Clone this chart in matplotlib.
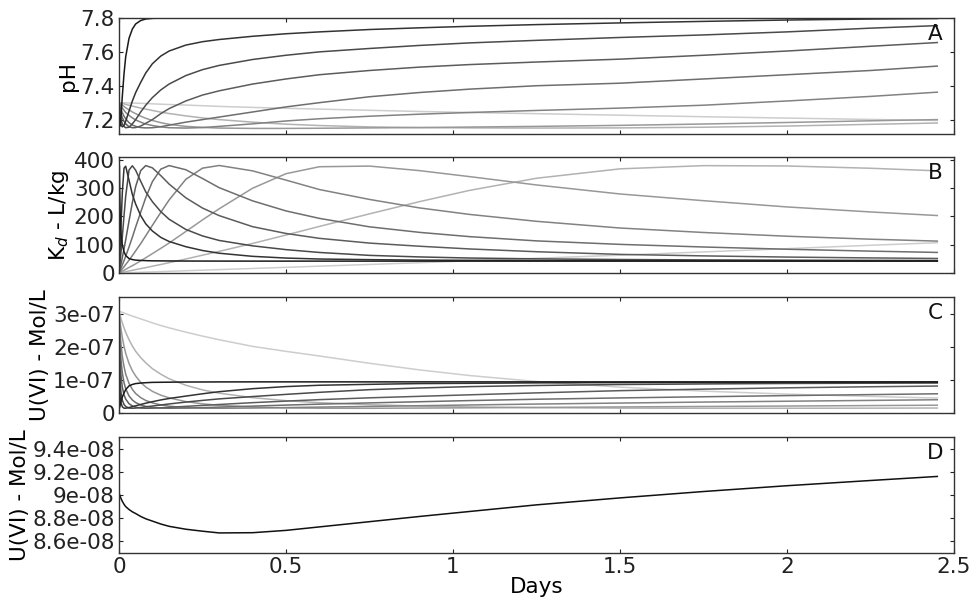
import matplotlib
matplotlib.use("Agg")
import matplotlib.pyplot as plt
import numpy as np

plt.rcParams['font.family'] = ['DejaVu Sans']

# common time grid (days)
t_days = [0, 0.001, 0.002, 0.004, 0.006, 0.01, 0.015, 0.02, 0.03, 0.04, 0.05, 0.065, 0.08, 0.1,
          0.125, 0.15, 0.2, 0.25, 0.3, 0.4, 0.5, 0.6, 0.75, 0.9, 1.05, 1.25, 1.5, 1.75, 2.0, 2.25, 2.45]

# Panel A: pH
ph_1 = [7.30, 7.20, 7.16, 7.17, 7.22, 7.34, 7.47, 7.57, 7.68, 7.735, 7.765, 7.785, 7.794, 7.798, 7.80, 7.80,
        7.80, 7.80, 7.80, 7.80, 7.80, 7.80, 7.80, 7.80, 7.80, 7.80, 7.80, 7.80, 7.80, 7.80, 7.80]
ph_2 = [7.30, 7.25, 7.22, 7.185, 7.17, 7.157, 7.165, 7.19, 7.25, 7.31, 7.36, 7.42, 7.475, 7.53, 7.575, 7.605,
        7.64, 7.66, 7.673, 7.692, 7.707, 7.718, 7.732, 7.742, 7.751, 7.761, 7.771, 7.78, 7.788, 7.794, 7.797]
ph_3 = [7.30, 7.27, 7.25, 7.22, 7.20, 7.175, 7.16, 7.152, 7.155, 7.175, 7.20, 7.245, 7.285, 7.33, 7.375, 7.41,
        7.46, 7.495, 7.52, 7.555, 7.58, 7.60, 7.62, 7.638, 7.653, 7.668, 7.685, 7.70, 7.718, 7.74, 7.755]
ph_4 = [7.30, 7.285, 7.27, 7.25, 7.235, 7.21, 7.19, 7.175, 7.158, 7.152, 7.153, 7.162, 7.178, 7.20, 7.235, 7.265,
        7.31, 7.345, 7.37, 7.41, 7.44, 7.465, 7.49, 7.51, 7.525, 7.54, 7.557, 7.58, 7.605, 7.633, 7.655]
ph_5 = [7.30, 7.295, 7.285, 7.27, 7.26, 7.24, 7.22, 7.205, 7.182, 7.168, 7.16, 7.153, 7.151, 7.152, 7.158, 7.167,
        7.185, 7.20, 7.215, 7.245, 7.275, 7.30, 7.335, 7.36, 7.38, 7.40, 7.415, 7.44, 7.465, 7.49, 7.516]
ph_6 = [7.30, 7.298, 7.295, 7.288, 7.28, 7.268, 7.255, 7.242, 7.225, 7.21, 7.198, 7.185, 7.174, 7.165, 7.157, 7.152,
        7.15, 7.153, 7.16, 7.175, 7.192, 7.205, 7.22, 7.232, 7.242, 7.254, 7.268, 7.285, 7.31, 7.337, 7.362]
ph_7 = [7.30, 7.30, 7.298, 7.295, 7.292, 7.286, 7.278, 7.27, 7.258, 7.245, 7.235, 7.22, 7.208, 7.195, 7.182, 7.172,
        7.16, 7.154, 7.15, 7.148, 7.148, 7.149, 7.151, 7.153, 7.156, 7.16, 7.166, 7.174, 7.183, 7.193, 7.20]
ph_8 = [7.30, 7.30, 7.30, 7.299, 7.298, 7.296, 7.293, 7.29, 7.285, 7.28, 7.275, 7.268, 7.262, 7.254, 7.244, 7.236,
        7.222, 7.21, 7.20, 7.185, 7.173, 7.165, 7.157, 7.153, 7.151, 7.15, 7.151, 7.155, 7.162, 7.172, 7.18]
ph_9 = [7.30, 7.30, 7.30, 7.30, 7.30, 7.30, 7.299, 7.299, 7.298, 7.298, 7.297, 7.296, 7.295, 7.293, 7.291, 7.289,
        7.286, 7.282, 7.278, 7.272, 7.267, 7.262, 7.255, 7.248, 7.242, 7.235, 7.226, 7.217, 7.209, 7.201, 7.195]

# Panel B: Kd (L/kg)
kd_1 = [0, 380, 295, 188, 140, 99, 75.5, 62, 51, 47.5, 45.5, 44.4, 43.7, 43, 42.8, 42.6,
        42.3, 42.2, 42.1, 42, 42, 42, 42, 42, 42, 42, 42, 42, 42, 42, 42]
kd_2 = [0, 25, 50.5, 107, 168.5, 285.6, 370.6, 377.4, 328, 277.5, 243.2, 202.8, 173.9, 148.4, 125.9, 111.4,
        93, 79.5, 69.9, 58.9, 52.8, 49.4, 47.2, 45.5, 44.9, 44, 43.5, 43.1, 42.9, 42.8, 42.7]
kd_3 = [0, 11.5, 24, 47.5, 74, 129, 202, 271, 364, 379, 363, 324, 287, 252, 217, 190,
        154, 131, 115, 96, 82.6, 72.6, 62.3, 56.8, 52.9, 50, 47.7, 46.3, 45.3, 44.7, 44.4]
kd_4 = [0, 5.3, 10.6, 21, 32, 55, 85, 117, 184, 249, 306, 362, 379.6, 371.6, 344.4, 314.3,
        265.8, 229.5, 202.8, 163.7, 139.7, 122.5, 105.7, 94.6, 85, 75.2, 65.8, 60.5, 56.3, 53.3, 51.4]
kd_5 = [0, 3, 6, 11.5, 17, 29, 43.5, 59, 92, 126.5, 163, 215, 266, 323, 367, 379.7,
        365, 334, 301.5, 255, 219.4, 193, 163.2, 143.6, 128.5, 113.5, 101.2, 91.9, 84, 77.3, 72.7]
kd_6 = [0, 1.5, 3, 6, 9, 15, 22, 30, 45, 61.5, 78.5, 104, 131.5, 168.5, 214, 258,
        331, 370.6, 380, 361, 328.3, 295, 260, 230, 207, 182.7, 159, 143.2, 130, 119.5, 112.7]
kd_7 = [0, 0.6, 1.3, 2.6, 3.9, 6.5, 9.7, 13, 19.5, 26, 32.5, 43, 53.8, 68.5, 87, 106,
        146.6, 187.7, 227, 299.7, 351, 375.6, 377.9, 361.8, 340.6, 311.2, 279.3, 255.6, 233.5, 215.8, 203.1]
kd_8 = [0, 0.24, 0.5, 1, 1.5, 2.4, 3.6, 4.8, 7.2, 9.6, 12, 15.5, 19, 24, 30, 36.5,
        49.4, 63, 76.5, 104.4, 134.2, 164.6, 209.1, 252.3, 292.1, 334.9, 368.1, 379.5, 378.3, 370.2, 361.1]
kd_9 = [0, 0.04, 0.08, 0.16, 0.24, 0.4, 0.6, 0.8, 1.2, 1.6, 2.0, 2.6, 3.2, 4.0, 5.0, 6.0,
        8.0, 10.0, 12.0, 16.0, 20.0, 24.2, 30.2, 36.4, 43, 52, 63, 74.5, 86, 98, 107]

# Panel C: dissolved U(VI), in units of 1e-7 mol/L
u_1 = [3.07, 0.143, 0.181, 0.275, 0.359, 0.484, 0.605, 0.706, 0.818, 0.861, 0.888, 0.904, 0.914, 0.924, 0.927, 0.930,
       0.935, 0.936, 0.938, 0.939, 0.939, 0.939, 0.939, 0.939, 0.939, 0.939, 0.939, 0.939, 0.939, 0.939, 0.939]
u_2 = [3.07, 1.306, 0.824, 0.453, 0.304, 0.187, 0.146, 0.144, 0.164, 0.192, 0.217, 0.257, 0.296, 0.341, 0.394, 0.438,
       0.510, 0.580, 0.643, 0.734, 0.797, 0.837, 0.865, 0.888, 0.896, 0.909, 0.917, 0.923, 0.926, 0.927, 0.929]
u_3 = [3.07, 1.894, 1.337, 0.861, 0.615, 0.385, 0.258, 0.196, 0.149, 0.143, 0.149, 0.166, 0.186, 0.210, 0.241, 0.273,
       0.330, 0.380, 0.426, 0.496, 0.562, 0.624, 0.704, 0.755, 0.796, 0.830, 0.859, 0.877, 0.891, 0.899, 0.904]
u_4 = [3.07, 2.387, 1.953, 1.439, 1.125, 0.773, 0.549, 0.420, 0.281, 0.213, 0.175, 0.149, 0.143, 0.146, 0.157, 0.171,
       0.200, 0.229, 0.257, 0.312, 0.359, 0.403, 0.458, 0.503, 0.549, 0.607, 0.674, 0.720, 0.760, 0.792, 0.813]
u_5 = [3.07, 2.64, 2.32, 1.894, 1.600, 1.20, 0.917, 0.733, 0.514, 0.392, 0.313, 0.244, 0.200, 0.167, 0.148, 0.143,
       0.148, 0.161, 0.178, 0.208, 0.239, 0.267, 0.305, 0.340, 0.375, 0.415, 0.455, 0.490, 0.525, 0.555, 0.580]
u_6 = [3.07, 2.84, 2.64, 2.32, 2.066, 1.70, 1.403, 1.172, 0.895, 0.711, 0.586, 0.464, 0.379, 0.304, 0.245, 0.206,
       0.163, 0.146, 0.143, 0.150, 0.163, 0.178, 0.198, 0.220, 0.242, 0.270, 0.300, 0.330, 0.355, 0.380, 0.400]
u_7 = [3.07, 2.974, 2.869, 2.692, 2.536, 2.272, 2.015, 1.80, 1.495, 1.277, 1.114, 0.924, 0.786, 0.653, 0.539, 0.457,
       0.344, 0.276, 0.232, 0.179, 0.154, 0.144, 0.143, 0.149, 0.156, 0.168, 0.183, 0.197, 0.210, 0.224, 0.235]
u_8 = [3.07, 3.031, 2.99, 2.913, 2.84, 2.718, 2.570, 2.438, 2.211, 2.022, 1.86, 1.671, 1.515, 1.337, 1.172, 1.033,
       0.837, 0.697, 0.598, 0.463, 0.372, 0.311, 0.250, 0.210, 0.183, 0.161, 0.147, 0.143, 0.143, 0.146, 0.150]
u_9 = [3.07, 3.067, 3.064, 3.058, 3.05, 3.035, 3.015, 2.995, 2.96, 2.925, 2.89, 2.84, 2.79, 2.72, 2.64, 2.57,
       2.44, 2.32, 2.21, 2.01, 1.86, 1.72, 1.50, 1.30, 1.13, 0.95, 0.78, 0.66, 0.57, 0.50, 0.45]

# Panel D: dissolved U(VI), in units of 1e-8 mol/L
u_d = [9.02, 9.01, 9.0, 8.985, 8.97, 8.945, 8.92, 8.90, 8.875, 8.855, 8.84, 8.815, 8.795, 8.775, 8.75, 8.73,
       8.705, 8.688, 8.673, 8.675, 8.695, 8.725, 8.77, 8.815, 8.858, 8.915, 8.975, 9.03, 9.08, 9.125, 9.16]

line_grays = ['#1a1a1a', '#333333', '#4a4a4a', '#5c5c5c', '#6e6e6e', '#828282', '#989898', '#b2b2b2', '#cdcdcd']

x_ticks = [0, 0.5, 1, 1.5, 2, 2.5]
x_tick_labels = ['0', '0.5', '1', '1.5', '2', '2.5']
ph_ticks = [7.2, 7.4, 7.6, 7.8]
kd_ticks = [0, 100, 200, 300, 400]
c_ticks = [0, 1e-7, 2e-7, 3e-7]
c_tick_labels = ['0', '1e-07', '2e-07', '3e-07']
d_ticks = [8.6e-8, 8.8e-8, 9.0e-8, 9.2e-8, 9.4e-8]
d_tick_labels = ['8.6e-08', '8.8e-08', '9e-08', '9.2e-08', '9.4e-08']

FS = 15.5
W, H = 974, 602
fig = plt.figure(figsize=(W / 100, H / 100), dpi=100)

left = 119 / W
width = (954 - 119) / W
tops = [18, 157, 297, 437]
ph = 116

axes = []
for tp in tops:
    ax = fig.add_axes([left, 1 - (tp + ph) / H, width, ph / H])
    axes.append(ax)

t = np.array(t_days)
axA, axB, axC, axD = axes

ph_series = [ph_1, ph_2, ph_3, ph_4, ph_5, ph_6, ph_7, ph_8, ph_9]
kd_series = [kd_1, kd_2, kd_3, kd_4, kd_5, kd_6, kd_7, kd_8, kd_9]
u_series = [u_1, u_2, u_3, u_4, u_5, u_6, u_7, u_8, u_9]

for i in range(8, -1, -1):
    c = line_grays[i]
    axA.plot(t, ph_series[i], color=c, lw=1.1)
    axB.plot(t, kd_series[i], color=c, lw=1.1)
    axC.plot(t, np.array(u_series[i]) * 1e-7, color=c, lw=1.1)
axD.plot(t, np.array(u_d) * 1e-8, color='#111111', lw=1.1)

axA.set_ylim(7.115, 7.8)
axA.set_yticks(ph_ticks)
axA.set_yticklabels([f'{v:g}' for v in ph_ticks])
axA.set_ylabel('pH', fontsize=FS, labelpad=2)

axB.set_ylim(0, 410)
axB.set_yticks(kd_ticks)
axB.set_yticklabels([str(v) for v in kd_ticks])
axB.set_ylabel(r'K$_{d}$ - L/kg', fontsize=FS, labelpad=2)

axC.set_ylim(0, 3.5e-7)
axC.set_yticks(c_ticks)
axC.set_yticklabels(c_tick_labels)
axC.set_ylabel('U(VI) - Mol/L', fontsize=FS, labelpad=2)

axD.set_ylim(8.5e-8, 9.5e-8)
axD.set_yticks(d_ticks)
axD.set_yticklabels(d_tick_labels)
axD.set_ylabel('U(VI) - Mol/L', fontsize=FS, labelpad=2)
axD.set_xlabel('Days', fontsize=FS, labelpad=0)

for ax, letter in zip(axes, ['A', 'B', 'C', 'D']):
    ax.set_xlim(0, 2.5)
    ax.set_xticks(x_ticks)
    if ax is axD:
        ax.set_xticklabels(x_tick_labels)
    else:
        ax.set_xticklabels([])
    ax.tick_params(direction='in', length=3, width=0.8, top=True, right=True,
                   labelsize=FS, colors='#222222', pad=3)
    for s in ax.spines.values():
        s.set_color('#333333')
        s.set_linewidth(1.0)
    ax.text(0.977, 0.86, letter, transform=ax.transAxes, ha='center', va='center',
            fontsize=FS, color='#111111')
    ax.set_facecolor('white')

fig.savefig('out.png', dpi=100, facecolor='white')
